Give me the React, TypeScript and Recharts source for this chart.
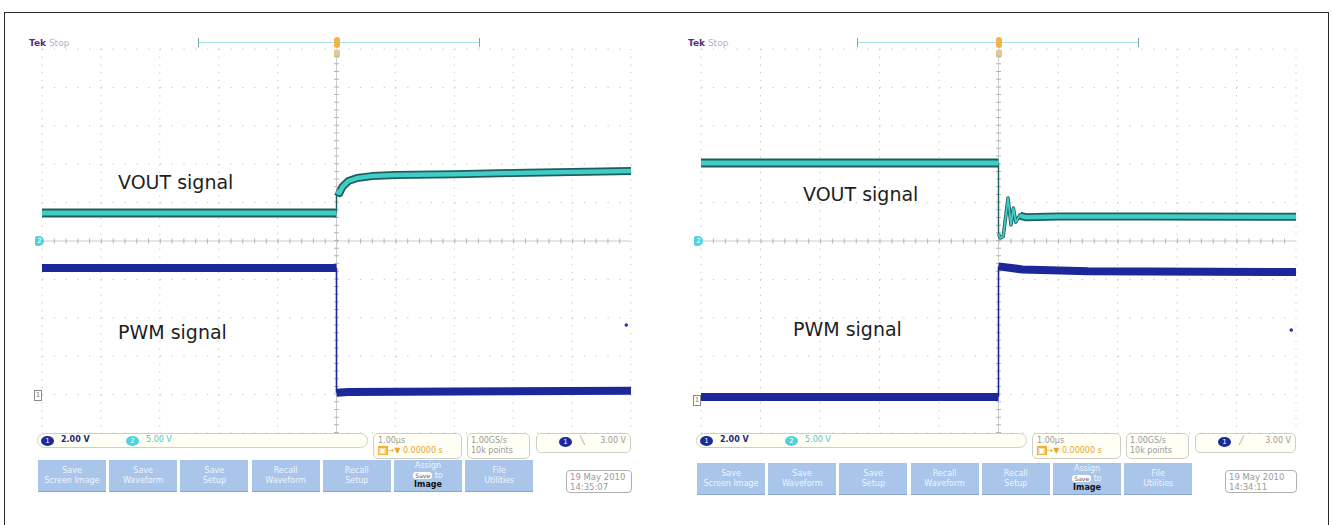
import { LineChart, Line, XAxis, YAxis, CartesianGrid, ReferenceLine, ReferenceDot } from "recharts";

// scope graticule: 10 x 10 divisions, 1.00 µs/div
const DIV_TICKS = [-5, -4, -3, -2, -1, 0, 1, 2, 3, 4, 5];

// capture 1 (PWM falls, VOUT steps up) — values in divisions
const vout1PreT = [-5, 0];
const vout1PreV = [0.73, 0.73];
const vout1PostT = [0, 0.05, 0.1, 0.2, 0.35, 0.6, 1, 2, 3, 4, 5];
const vout1PostV = [1.3, 1.25, 1.41, 1.56, 1.64, 1.69, 1.72, 1.74, 1.77, 1.8, 1.82];
const pwm1PreT = [-5, 0];
const pwm1PreV = [-0.7, -0.7];
const pwm1PostT = [0, 0.2, 5];
const pwm1PostV = [-3.95, -3.93, -3.9];

// capture 2 (PWM rises, VOUT steps down with ringing)
const vout2PreT = [-5, 0];
const vout2PreV = [2.03, 2.03];
const vout2RingT = [0, 0.03, 0.08, 0.16, 0.21, 0.25, 0.29, 0.36, 0.45];
const vout2RingV = [0.18, 0.08, 0.12, 1.12, 0.42, 0.86, 0.49, 0.68, 0.6];
const vout2PostT = [0.36, 0.45, 1, 2.5, 5];
const vout2PostV = [0.66, 0.62, 0.64, 0.64, 0.63];
const pwm2PreT = [-5, 0];
const pwm2PreV = [-4.06, -4.06];
const pwm2PostT = [0, 0.4, 1.5, 5];
const pwm2PostV = [-0.66, -0.74, -0.79, -0.81];

const cursorT = 4.92;
const cursor1V = -2.19;
const cursor2V = -2.32;

const BUTTONS = [
  ["Save", "Screen Image"],
  ["Save", "Waveform"],
  ["Save", "Setup"],
  ["Recall", "Waveform"],
  ["Recall", "Setup"],
  ["Assign", "to", "Image"],
  ["File", "Utilities"],
];

const zip = (t: number[], v: number[]) => t.map((x, i) => ({ t: x, v: v[i] }));

const FONT = "'DejaVu Sans', Verdana, sans-serif";
const GY = 49;
const GH = 384;
const CYAN = "#3fcdc6";
const CYAN_EDGE = "#1f5e5c";
const BLUE = "#1c279a";

type Pt = { t: number; v: number };

interface ScopeProps {
  gx: number;
  gw: number;
  voutPre: Pt[];
  voutRing: Pt[];
  voutPost: Pt[];
  pwmPre: Pt[];
  pwmPost: Pt[];
  cursorV: number;
  vLabel: [number, number];
  pLabel: [number, number];
  ch1Y: number;
  btnTop: number;
  slope: string;
  time: string;
}

function Scope(p: ScopeProps) {
  const M = 6;
  const cx = p.gx + p.gw / 2;
  const hx = p.gw / 50;
  const hy = GH / 50;
  const afterEdge = p.voutRing.length ? p.voutRing[0] : p.voutPost[0];
  const voutEdge = [p.voutPre[p.voutPre.length - 1], afterEdge];
  const pwmEdge = [p.pwmPre[p.pwmPre.length - 1], p.pwmPost[0]];
  const gray = "#9a9a9a";
  const box = {
    position: "absolute" as const,
    border: "1px solid #cfcfc6",
    background: "#fffff6",
    boxSizing: "border-box" as const,
    fontFamily: FONT,
    fontSize: 8,
    color: gray,
  };

  return (
    <>
      <div style={{ position: "absolute", left: p.gx - 13, top: 38, fontFamily: FONT, fontSize: 9 }}>
        <b style={{ color: "#56307c" }}>Tek</b>
        <span style={{ color: "#b9acd2" }}> Stop</span>
      </div>
      <div style={{ position: "absolute", left: p.gx + 156, top: 42, width: 282, borderTop: "1.5px solid #a6e2ea" }} />
      <div style={{ position: "absolute", left: p.gx + 156, top: 38, width: 1, height: 9, background: "#7aa8aa" }} />
      <div style={{ position: "absolute", left: p.gx + 437, top: 38, width: 1, height: 9, background: "#7aa8aa" }} />
      <div style={{ position: "absolute", left: cx - 3, top: 37, width: 6, height: 11, borderRadius: 3, background: "#f4b347" }} />
      <div style={{ position: "absolute", left: cx - 3, top: 50, width: 6, height: 8, borderRadius: "1px 1px 3px 3px", background: "#f6c56a" }} />

      <div style={{ position: "absolute", left: p.gx - M, top: GY - M }}>
        <LineChart width={p.gw + 2 * M} height={GH + 2 * M} margin={{ top: M, right: M, bottom: M, left: M }}>
          <XAxis type="number" dataKey="t" domain={[-5, 5]} ticks={DIV_TICKS} hide allowDataOverflow />
          <YAxis type="number" domain={[-5, 5]} ticks={DIV_TICKS} hide allowDataOverflow />
          <CartesianGrid horizontal vertical={false} stroke="#c6c6c6" strokeDasharray={`1.3 ${hx - 1.3}`} />
          <CartesianGrid horizontal={false} vertical stroke="#c6c6c6" strokeDasharray={`1.3 ${hy - 1.3}`} />
          <ReferenceLine y={0} stroke="#cdcdcd" />
          <ReferenceLine y={0} stroke="#b5b5b5" strokeWidth={5} strokeDasharray={`1 ${hx - 1}`} />
          <ReferenceLine x={0} stroke="#cdcdcd" />
          <ReferenceLine x={0} stroke="#b5b5b5" strokeWidth={5} strokeDasharray={`1 ${hy - 1}`} />
          <ReferenceDot x={cursorT} y={p.cursorV} r={1.8} fill="#2a3aa8" stroke="none" />

          <Line data={pwmEdge} dataKey="v" stroke={BLUE} strokeWidth={1.6} dot={false} activeDot={false} isAnimationActive={false} />
          <Line data={p.pwmPre} dataKey="v" stroke={BLUE} strokeWidth={8} dot={false} activeDot={false} isAnimationActive={false} />
          <Line data={p.pwmPost} dataKey="v" stroke={BLUE} strokeWidth={8} dot={false} activeDot={false} isAnimationActive={false} />

          <Line data={voutEdge} dataKey="v" stroke={CYAN_EDGE} strokeWidth={1.4} dot={false} activeDot={false} isAnimationActive={false} />
          <Line data={p.voutRing} dataKey="v" stroke={CYAN_EDGE} strokeWidth={3.5} strokeLinejoin="round" dot={false} activeDot={false} isAnimationActive={false} />
          <Line data={p.voutRing} dataKey="v" stroke={CYAN} strokeWidth={1.8} strokeLinejoin="round" dot={false} activeDot={false} isAnimationActive={false} />
          <Line data={p.voutPre} dataKey="v" stroke={CYAN_EDGE} strokeWidth={9} dot={false} activeDot={false} isAnimationActive={false} />
          <Line data={p.voutPre} dataKey="v" stroke={CYAN} strokeWidth={5} dot={false} activeDot={false} isAnimationActive={false} />
          <Line data={p.voutPost} dataKey="v" stroke={CYAN_EDGE} strokeWidth={8} strokeLinejoin="round" dot={false} activeDot={false} isAnimationActive={false} />
          <Line data={p.voutPost} dataKey="v" stroke={CYAN} strokeWidth={4.5} strokeLinejoin="round" dot={false} activeDot={false} isAnimationActive={false} />
        </LineChart>
      </div>

      {/* channel markers */}
      <div style={{ position: "absolute", left: p.gx - 7, top: 236, width: 9, height: 10, borderRadius: "2px 5px 5px 2px", background: "#4fd2de", color: "#fff", fontSize: 7, fontFamily: FONT, textAlign: "center", lineHeight: "10px" }}>2</div>
      <div style={{ position: "absolute", left: p.gx - 8, top: p.ch1Y - 5, width: 6, height: 9, border: "1px solid #8a8a8a", color: "#777", fontSize: 7, fontFamily: FONT, textAlign: "center", lineHeight: "9px" }}>1</div>

      <div style={{ position: "absolute", left: p.vLabel[0], top: p.vLabel[1] - 12, fontFamily: FONT, fontSize: 19, color: "#1e1e1e", whiteSpace: "nowrap" }}>VOUT signal</div>
      <div style={{ position: "absolute", left: p.pLabel[0], top: p.pLabel[1] - 12, fontFamily: FONT, fontSize: 19, color: "#1e1e1e", whiteSpace: "nowrap" }}>PWM signal</div>

      {/* status bar */}
      <div style={{ ...box, left: p.gx - 5, top: 433, width: 331, height: 15, borderRadius: 8 }}>
        <div style={{ position: "absolute", left: 3, top: 1.5, width: 13, height: 10, borderRadius: "50%", background: "#1d2a9c", color: "#fff", fontSize: 7, textAlign: "center", lineHeight: "10px" }}>1</div>
        <div style={{ position: "absolute", left: 23, top: 1, color: "#222a7a", fontWeight: "bold" }}>2.00 V</div>
        <div style={{ position: "absolute", left: 88, top: 1.5, width: 13, height: 10, borderRadius: "50%", background: "#4fd2de", color: "#fff", fontSize: 7, textAlign: "center", lineHeight: "10px" }}>2</div>
        <div style={{ position: "absolute", left: 108, top: 1, color: "#4cc8d4" }}>5.00 V</div>
      </div>
      <div style={{ ...box, left: p.gx + 331, top: 433, width: 89, height: 26, borderRadius: 5, padding: "2px 4px", lineHeight: "10px" }}>
        <div>1.00µs</div>
        <div style={{ color: "#e9a52c" }}>
          <span style={{ background: "#f2b233", color: "#fff", padding: "0 1px" }}>▣</span>→▼ 0.00000 s
        </div>
      </div>
      <div style={{ ...box, left: p.gx + 425, top: 433, width: 63, height: 26, borderRadius: 5, padding: "2px 3px", lineHeight: "10px" }}>
        <div>1.00GS/s</div>
        <div>10k points</div>
      </div>
      <div style={{ ...box, left: p.gx + 494, top: 433, width: p.gw - 494, height: 20, borderRadius: 5 }}>
        <div style={{ position: "absolute", left: 22, top: 3, width: 13, height: 10, borderRadius: "50%", background: "#1d2a9c", color: "#fff", fontSize: 7, textAlign: "center", lineHeight: "10px" }}>1</div>
        <div style={{ position: "absolute", left: 43, top: 2 }}>{p.slope}</div>
        <div style={{ position: "absolute", right: 4, top: 2 }}>3.00 V</div>
      </div>

      {/* menu buttons */}
      {BUTTONS.map((b, i) => (
        <div
          key={i}
          style={{
            position: "absolute",
            left: p.gx - 4 + i * 71.2,
            top: p.btnTop,
            width: 68,
            height: 32,
            background: "#a9c5ea",
            borderBottom: "1.5px solid #8aa6cc",
            boxSizing: "border-box",
            fontFamily: FONT,
            fontSize: 8,
            color: "#eef5ff",
            textAlign: "center",
            lineHeight: "9.5px",
            paddingTop: b.length === 3 ? 1 : 6,
          }}
        >
          {b.length === 3 ? (
            <>
              <div>{b[0]}</div>
              <div>
                <span style={{ background: "#fff", color: "#556", borderRadius: 3, padding: "0 2px", fontSize: 6 }}>Save</span> {b[1]}
              </div>
              <div style={{ color: "#111", fontWeight: "bold" }}>{b[2]}</div>
            </>
          ) : (
            <>
              <div>{b[0]}</div>
              <div>{b[1]}</div>
            </>
          )}
        </div>
      ))}
      <div style={{ ...box, left: p.gx + 524, top: 470, width: p.gw - 523, height: 23, borderRadius: 4, border: "1.5px solid #b0b0b0", background: "#fff", padding: "1px 3px", lineHeight: "10px", fontSize: 8.5 }}>
        <div>19 May 2010</div>
        <div>{p.time}</div>
      </div>
    </>
  );
}

export default function App() {
  return (
    <div style={{ position: "absolute", left: 0, top: 0, width: 1332, height: 525, background: "#fff", overflow: "hidden" }}>
      <div style={{ position: "absolute", left: 4, top: 12, width: 1325, height: 530, border: "1.5px solid #2a2a2a", boxSizing: "border-box" }} />
      <Scope
        gx={42}
        gw={589}
        voutPre={zip(vout1PreT, vout1PreV)}
        voutRing={[]}
        voutPost={zip(vout1PostT, vout1PostV)}
        pwmPre={zip(pwm1PreT, pwm1PreV)}
        pwmPost={zip(pwm1PostT, pwm1PostV)}
        cursorV={cursor1V}
        vLabel={[118, 183]}
        pLabel={[118, 333]}
        ch1Y={395}
        btnTop={460}
        slope="╲"
        time="14:35:07"
      />
      <Scope
        gx={701}
        gw={595}
        voutPre={zip(vout2PreT, vout2PreV)}
        voutRing={zip(vout2RingT, vout2RingV)}
        voutPost={zip(vout2PostT, vout2PostV)}
        pwmPre={zip(pwm2PreT, pwm2PreV)}
        pwmPost={zip(pwm2PostT, pwm2PostV)}
        cursorV={cursor2V}
        vLabel={[803, 195]}
        pLabel={[793, 330]}
        ch1Y={400}
        btnTop={463}
        slope="╱"
        time="14:34:11"
      />
    </div>
  );
}
